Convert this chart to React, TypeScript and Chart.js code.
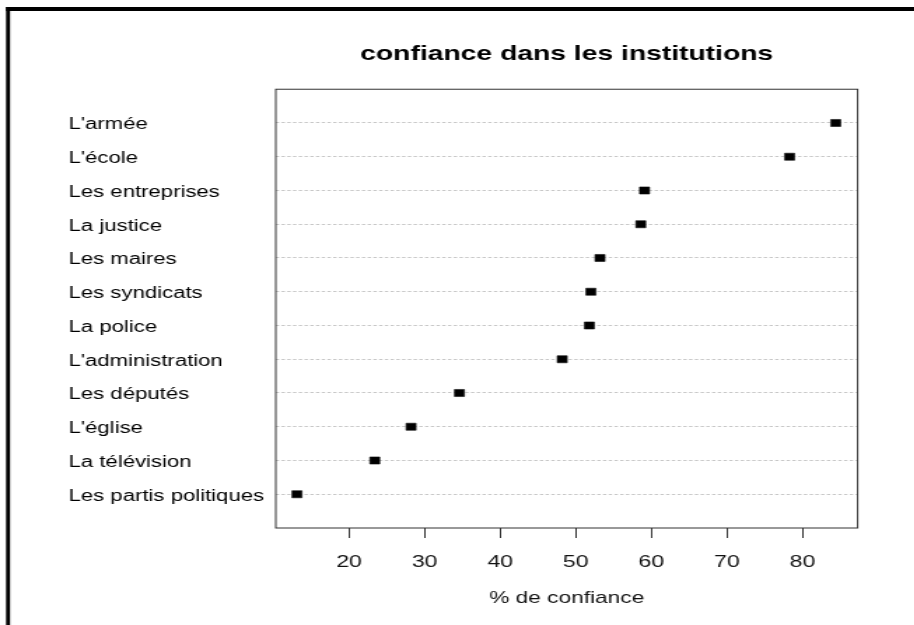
import React, { useEffect, useRef } from "react";
import { Chart, registerables } from "chart.js";

Chart.register(...registerables);

const institutions = [
  "L'armée",
  "L'école",
  "Les entreprises",
  "La justice",
  "Les maires",
  "Les syndicats",
  "La police",
  "L'administration",
  "Les députés",
  "L'église",
  "La télévision",
  "Les partis politiques",
];
const confiance = [84.4, 78.3, 59.1, 58.6, 53.2, 52.0, 51.8, 48.2, 34.6, 28.2, 23.4, 13.1];
const xTicks = [20, 30, 40, 50, 60, 70, 80];
const chartTitle = "confiance dans les institutions";
const xTitle = "% de confiance";

const STRETCH = 1.4;
const W = 653;
const H = 625;
const FONT = "'Liberation Sans', Arial, Helvetica, sans-serif";

const boxPlugin = {
  id: "boxPlugin",
  afterDraw(chart: any) {
    const { ctx, chartArea } = chart;
    ctx.save();
    ctx.strokeStyle = "#333";
    ctx.lineWidth = 1;
    ctx.strokeRect(chartArea.left, chartArea.top, chartArea.right - chartArea.left, chartArea.bottom - chartArea.top);
    ctx.fillStyle = "#000";
    ctx.fillRect(4.3, 7, chart.width, 4);
    ctx.fillRect(4.3, 7, 2.9, chart.height);
    ctx.restore();
  },
};

export default function App() {
  const ref = useRef<HTMLCanvasElement>(null);
  useEffect(() => {
    if (!ref.current) return;
    const chart = new Chart(ref.current, {
      type: "scatter",
      data: {
        datasets: [
          {
            data: confiance.map((v, i) => ({ x: v, y: i + 1 })),
            pointStyle: "rect",
            pointRadius: 5,
            pointBackgroundColor: "#000",
            pointBorderColor: "#111",
            pointBorderWidth: 0.6,
          },
        ],
      },
      options: {
        animation: false,
        responsive: false,
        events: [],
        layout: { padding: { left: 49, right: 40.4, top: 0, bottom: 0 } },
        plugins: {
          legend: { display: false },
          tooltip: { enabled: false },
          title: {
            display: true,
            text: chartTitle,
            fullSize: false,
            color: "#000",
            font: { family: FONT, size: 20.2, weight: "bold" },
            padding: { top: 42, bottom: 23 },
          },
        },
        scales: {
          x: {
            type: "linear",
            min: 10.3,
            max: 87.3,
            afterBuildTicks: (s: any) => {
              s.ticks = xTicks.map((v) => ({ value: v }));
            },
            afterFit: (s: any) => {
              s.height = 97;
            },
            grid: {
              drawOnChartArea: false,
              drawTicks: true,
              tickLength: 10,
              tickColor: "#333",
              tickWidth: 1,
            },
            border: { display: false },
            ticks: {
              color: "#111",
              padding: 15,
              maxRotation: 0,
              font: { family: FONT, size: 16.5 },
            },
            title: {
              display: true,
              text: xTitle,
              color: "#111",
              font: { family: FONT, size: 16.2 },
              padding: { top: 0, bottom: 16.5 },
            },
          },
          y: {
            type: "linear",
            min: 0,
            max: 13,
            reverse: true,
            afterBuildTicks: (s: any) => {
              s.ticks = institutions.map((_, i) => ({ value: i + 1 }));
            },
            afterFit: (s: any) => {
              s.width = 148;
            },
            grid: {
              drawTicks: false,
              color: "#c8c8c8",
              lineWidth: 1,
            },
            border: { display: false, dash: [2.4, 1.7] },
            ticks: {
              crossAlign: "far",
              color: "#000",
              padding: 0,
              labelOffset: 2,
              font: { family: FONT, size: 15.8 },
              callback: (v: any) => institutions[Math.round(Number(v)) - 1] ?? "",
            },
          },
        },
      },
      plugins: [boxPlugin],
    } as any);
    return () => chart.destroy();
  }, []);
  return (
    <div
      style={{
        position: "fixed",
        left: 0,
        top: 0,
        width: 914,
        height: 625,
        overflow: "hidden",
        background: "#fff",
      }}
    >
      <canvas
        ref={ref}
        width={W}
        height={H}
        style={{
          display: "block",
          width: W,
          height: H,
          transform: `scaleX(${STRETCH})`,
          transformOrigin: "0 0",
        }}
      />
    </div>
  );
}
